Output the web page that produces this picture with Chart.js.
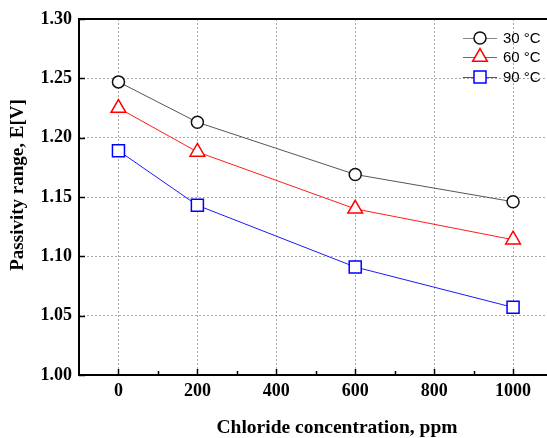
<!DOCTYPE html>
<html>
<head>
<meta charset="utf-8">
<title>Passivity range vs chloride</title>
<script src="https://cdn.jsdelivr.net/npm/chart.js"></script>
<style>
  html, body { margin: 0; padding: 0; background: #fff; overflow: hidden; }
  #wrap { width: 547px; height: 438px; position: relative; }
</style>
</head>
<body>
<div id="wrap"><canvas id="chart" width="547" height="438"></canvas></div>
<script>
// data
const chloride = [0, 200, 600, 1000];
const e30 = [1.247, 1.213, 1.169, 1.146];
const e60 = [1.225, 1.188, 1.140, 1.114];
const e90 = [1.189, 1.143, 1.091, 1.057];
const seriesNames = ['30 \u00B0C', '60 \u00B0C', '90 \u00B0C'];
const xTicks = [0, 200, 400, 600, 800, 1000];
const xMinor = [100, 300, 500, 700, 900];
const yTicks = [1.00, 1.05, 1.10, 1.15, 1.20, 1.25, 1.30];
const xTitle = 'Chloride concentration, ppm';
const yTitle = 'Passivity range, E[V]';

const serif = '"Liberation Serif", "Times New Roman", serif';
const sans = '"Liberation Sans", Arial, sans-serif';

const toPoints = (ys) => ys.map((y, i) => ({ x: chloride[i], y: y }));

// small marker painter for the legend (same shapes as chart.js uses)
function drawMarker(ctx, style, r, x, y) {
    ctx.beginPath();
    if (style === 'circle') {
        ctx.arc(x, y, r, 0, Math.PI * 2);
    } else if (style === 'triangle') {
        let rad = 0;
        ctx.moveTo(x + Math.sin(rad) * r, y - Math.cos(rad) * r);
        rad += Math.PI * 2 / 3;
        ctx.lineTo(x + Math.sin(rad) * r, y - Math.cos(rad) * r);
        rad += Math.PI * 2 / 3;
        ctx.lineTo(x + Math.sin(rad) * r, y - Math.cos(rad) * r);
        ctx.closePath();
    } else {
        const s = Math.SQRT1_2 * r;
        ctx.rect(x - s, y - s, 2 * s, 2 * s);
    }
    ctx.fill();
    ctx.stroke();
}

const framePlugin = {
    id: 'frame',
    afterDraw(chart) {
        const { ctx, chartArea: a, scales } = chart;
        const xs = scales.x, ys = scales.y;
        ctx.save();
        ctx.strokeStyle = '#000';
        ctx.lineWidth = 2;
        ctx.beginPath();
        ctx.moveTo(a.left, a.top);
        ctx.lineTo(a.right, a.top);
        ctx.moveTo(a.left, a.top - 1);
        ctx.lineTo(a.left, a.bottom + 1);
        ctx.moveTo(a.left - 1, a.bottom);
        ctx.lineTo(a.right, a.bottom);
        ctx.stroke();

        // inward ticks
        ctx.lineWidth = 1.5;
        ctx.beginPath();
        xTicks.forEach(v => {
            const px = Math.round(xs.getPixelForValue(v)) + 0.5;
            ctx.moveTo(px, a.bottom);
            ctx.lineTo(px, a.bottom - 6);
        });
        xMinor.forEach(v => {
            const px = Math.round(xs.getPixelForValue(v)) + 0.5;
            ctx.moveTo(px, a.bottom);
            ctx.lineTo(px, a.bottom - 4);
        });
        yTicks.forEach(v => {
            const py = Math.round(ys.getPixelForValue(v)) + 0.5;
            ctx.moveTo(a.left, py);
            ctx.lineTo(a.left + 6, py);
        });
        ctx.stroke();

        // axis titles (the originals sit a little off-centre)
        ctx.fillStyle = '#000';
        ctx.font = 'bold 19.5px ' + serif;
        ctx.textAlign = 'center';
        ctx.textBaseline = 'middle';
        ctx.fillText(xTitle, 337, 428);
        ctx.save();
        ctx.translate(18, 185);
        ctx.rotate(-Math.PI / 2);
        ctx.font = 'bold 19px ' + serif;
        ctx.fillText(yTitle, 0, 0);
        ctx.restore();

        // legend: line through marker, then label
        const rows = [38, 57, 77];
        chart.data.datasets.forEach((ds, i) => {
            const y = rows[i];
            ctx.strokeStyle = ds.legendLine;
            ctx.lineWidth = 1;
            ctx.beginPath();
            ctx.moveTo(463, y + 0.5);
            ctx.lineTo(497, y + 0.5);
            ctx.stroke();
            ctx.fillStyle = '#fff';
            ctx.strokeStyle = ds.pointBorderColor;
            ctx.lineWidth = ds.pointBorderWidth;
            drawMarker(ctx, ds.pointStyle, ds.pointRadius, 480, y);
            ctx.fillStyle = '#000';
            ctx.font = '15px ' + sans;
            ctx.textBaseline = 'middle';
            ctx.textAlign = 'left';
            ctx.fillText(ds.label, 503, y + 1);
        });
        ctx.restore();
    }
};

new Chart(document.getElementById('chart'), {
    type: 'line',
    data: {
        datasets: [{
            label: seriesNames[0],
            data: toPoints(e30),
            borderColor: '#555555',
            legendLine: '#888888',
            borderWidth: 1,
            pointStyle: 'circle',
            pointRadius: 6,
            pointHoverRadius: 6,
            pointBorderColor: '#111111',
            pointBackgroundColor: '#ffffff',
            pointBorderWidth: 1.5
        }, {
            label: seriesNames[1],
            data: toPoints(e60),
            borderColor: '#ff1a1a',
            legendLine: '#ff3030',
            borderWidth: 1,
            pointStyle: 'triangle',
            pointRadius: 8.5,
            pointHoverRadius: 8.5,
            pointBorderColor: '#ff0000',
            pointBackgroundColor: '#ffffff',
            pointBorderWidth: 1.5
        }, {
            label: seriesNames[2],
            data: toPoints(e90),
            borderColor: '#1a1aff',
            legendLine: '#4040ff',
            borderWidth: 1,
            pointStyle: 'rect',
            pointRadius: 8.5,
            pointHoverRadius: 8.5,
            pointBorderColor: '#0000ff',
            pointBackgroundColor: '#ffffff',
            pointBorderWidth: 1.5
        }]
    },
    options: {
        responsive: false,
        maintainAspectRatio: false,
        animation: false,
        layout: { autoPadding: false, padding: { top: 19, right: 0, left: 0, bottom: 0 } },
        plugins: {
            legend: { display: false },
            tooltip: { enabled: false }
        },
        scales: {
            x: {
                type: 'linear',
                min: -100,
                max: 1086,
                afterBuildTicks: (scale) => { scale.ticks = xTicks.map(v => ({ value: v })); },
                afterFit: (scale) => {
                    scale.height = 63;
                    scale.paddingLeft = 0;
                    scale.paddingRight = 0;
                },
                grid: { color: '#a8a8a8', lineWidth: 1, drawTicks: false },
                border: { display: false, dash: [2, 2] },
                ticks: {
                    padding: 6,
                    color: '#000',
                    font: { family: serif, size: 18, weight: 'bold' },
                    maxRotation: 0,
                    callback: (v) => String(v)
                },
                title: { display: false }
            },
            y: {
                min: 1.0,
                max: 1.3,
                afterBuildTicks: (scale) => { scale.ticks = yTicks.map(v => ({ value: v })); },
                afterFit: (scale) => {
                    scale.width = 79;
                    scale.paddingTop = 0;
                    scale.paddingBottom = 0;
                },
                grid: { color: '#a8a8a8', lineWidth: 1, drawTicks: false },
                border: { display: false, dash: [2, 2] },
                ticks: {
                    padding: 7,
                    color: '#000',
                    font: { family: serif, size: 18, weight: 'bold' },
                    callback: (v) => Number(v).toFixed(2)
                },
                title: { display: false }
            }
        }
    },
    plugins: [framePlugin]
});
</script>
</body>
</html>
